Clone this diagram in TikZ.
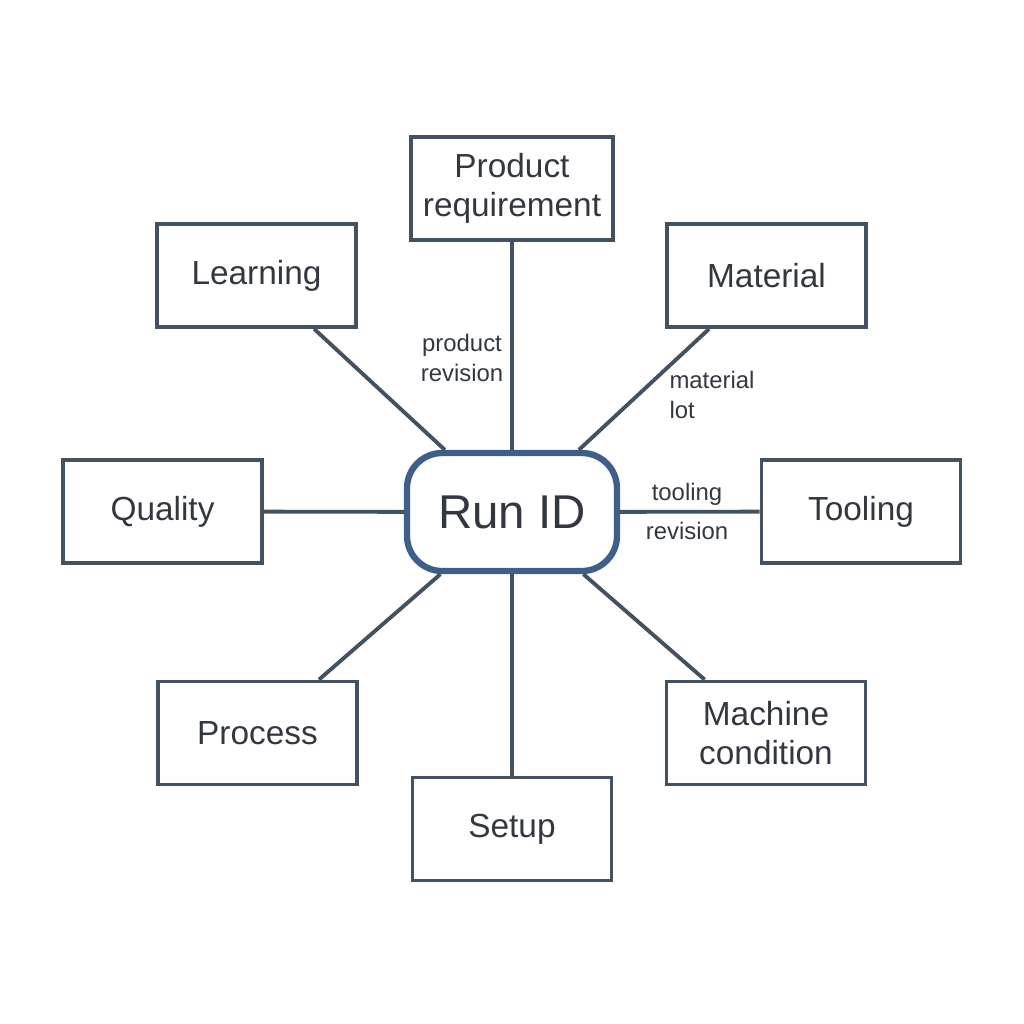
\documentclass[tikz,border=0pt]{standalone}
\usepackage{fontspec}
\setmainfont{Liberation Sans}
\definecolor{edge}{HTML}{44525F}
\definecolor{hub}{HTML}{3D5F8A}
\definecolor{ink}{HTML}{333840}
\tikzset{
  item/.style={draw=edge, line width=1.1pt, minimum width=1.99cm, minimum height=1.03cm,
    align=center, text=ink, font=\fontsize{9.5}{11}\selectfont},
  link/.style={draw=edge, line width=1.1pt},
  tag/.style={text=ink, font=\fontsize{6.8}{8.6}\selectfont, align=left}
}
\begin{document}
\begin{tikzpicture}[y=-1cm]
	\useasboundingbox (0,0) rectangle (10.24,10.24);
	\node[draw=hub, line width=1.8pt, rounded corners=10pt, minimum width=2.1cm, minimum height=1.18cm,
	  text=ink, font=\fontsize{13.5}{15}\selectfont] (run) at (5.12,5.12) {Run ID};
	\node[item] (prod) at (5.12,1.885) {Product\\requirement};
	\node[item] (learn) at (2.565,2.755) {Learning};
	\node[item] (mat) at (7.665,2.755) {Material};
	\node[item] (qual) at (1.625,5.115) {Quality};
	\node[item] (tool) at (8.61,5.115) {Tooling};
	\node[item] (proc) at (2.575,7.33) {Process};
	\node[item] (mach) at (7.66,7.33) {Machine\\condition};
	\node[item] (setup) at (5.12,8.29) {Setup};
	% spokes
	\foreach \n in {prod,learn,mat,qual,tool,proc,mach,setup}
	  \draw[link] (run) -- (\n);
	\node[tag, align=center] (prodrev) at (4.62,3.58) {product\\revision};
	\node[tag] (matlot) at (7.12,3.95) {material\\lot};
	\node[tag] (toolrev) at (6.87,4.94) {tooling};
	\node[tag] (toolrev2) at (6.87,5.31) {revision};
\end{tikzpicture}
\end{document}
